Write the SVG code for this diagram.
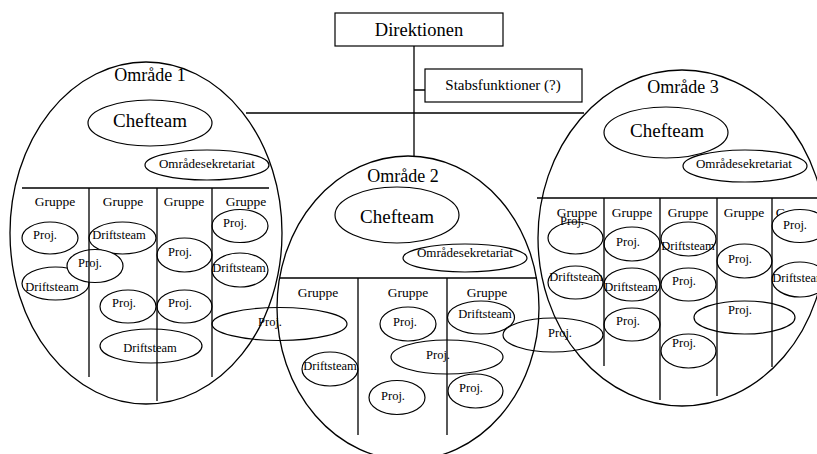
<svg xmlns="http://www.w3.org/2000/svg" width="817" height="454" viewBox="0 0 817 454">
<style>
text{font-family:"Liberation Serif","Times New Roman",serif;fill:#000;text-anchor:middle}
.big{fill:none;stroke:#000;stroke-width:1.3}
.n{fill:#fff;stroke:#000;stroke-width:1.2}
.ln{stroke:#000;stroke-width:1.3;fill:none}
.t-area{font-size:18px}
.t-chef{font-size:19px}
.t-sek{font-size:13px}
.t-grp{font-size:13.5px}
.t-s{font-size:12.5px}
</style>
<rect width="817" height="454" fill="#fff"/>

<g id="direktionen">
<rect x="335" y="13" width="168" height="33" class="n"/>
<text x="419" y="36" style="font-size:18.5px">Direktionen</text>
</g>
<g id="stabsfunktioner">
<rect x="425" y="69" width="157" height="33" class="n"/>
<text x="503" y="90" style="font-size:15px">Stabsfunktioner (?)</text>
</g>

<g id="omraade1">
<text x="150" y="81" class="t-area">Område 1</text>
<g id="o1-chefteam"><ellipse cx="150" cy="123" rx="62" ry="23" class="n"/><text x="150" y="127" class="t-chef">Chefteam</text></g>
<g id="o1-sekretariat"><ellipse cx="207" cy="165" rx="62" ry="15" class="n"/><text x="207" y="168" class="t-sek">Områdesekretariat</text></g>
<text x="55" y="206" class="t-grp">Gruppe</text>
<text x="123" y="206" class="t-grp">Gruppe</text>
<text x="184" y="206" class="t-grp">Gruppe</text>
<text x="246" y="206" class="t-grp">Gruppe</text>
<g id="o1-p1"><ellipse cx="50" cy="238" rx="28" ry="16" class="n"/><text x="45" y="239" class="t-s">Proj.</text></g>
<g id="o1-d1"><ellipse cx="122.5" cy="238" rx="33.5" ry="16" class="n"/><text x="119" y="239" class="t-s">Driftsteam</text></g>
<g id="o1-d2"><ellipse cx="55.5" cy="283.5" rx="33.5" ry="16.5" class="n"/><text x="52" y="291" class="t-s">Driftsteam</text></g>
<g id="o1-p2"><ellipse cx="95" cy="266" rx="28" ry="16.5" class="n"/><text x="90" y="267" class="t-s">Proj.</text></g>
<g id="o1-p3"><ellipse cx="184.5" cy="255" rx="27.5" ry="17" class="n"/><text x="180" y="256" class="t-s">Proj.</text></g>
<g id="o1-p4"><ellipse cx="240" cy="226" rx="28" ry="16.5" class="n"/><text x="235" y="227" class="t-s">Proj.</text></g>
<g id="o1-d3"><ellipse cx="240" cy="270" rx="28" ry="17" class="n"/><text x="239" y="272" class="t-s">Driftsteam</text></g>
<g id="o1-p5"><ellipse cx="128" cy="306.5" rx="28" ry="16.5" class="n"/><text x="124" y="307" class="t-s">Proj.</text></g>
<g id="o1-p6"><ellipse cx="184.5" cy="306.5" rx="27.5" ry="16.5" class="n"/><text x="180" y="307" class="t-s">Proj.</text></g>
<g id="o1-d4"><ellipse cx="151" cy="346" rx="51" ry="17" class="n"/><text x="150" y="352" class="t-s">Driftsteam</text></g>
<g id="o1-p7"><ellipse cx="279.5" cy="324" rx="67.5" ry="16.5" class="n"/><text x="270" y="326" class="t-s">Proj.</text></g>
<ellipse cx="146" cy="233" rx="136" ry="171" class="big"/>
<path d="M22 188H269M89 188V377M157 188V401M212 188V377" class="ln"/>
</g>

<g id="omraade2">
<text x="403" y="182" class="t-area">Område 2</text>
<g id="o2-chefteam"><ellipse cx="397" cy="215" rx="62" ry="28" class="n"/><text x="397" y="223" class="t-chef">Chefteam</text></g>
<g id="o2-sekretariat"><ellipse cx="465" cy="258" rx="62" ry="14" class="n"/><text x="465" y="257" class="t-sek">Områdesekretariat</text></g>
<text x="318" y="297" class="t-grp">Gruppe</text>
<text x="408" y="297" class="t-grp">Gruppe</text>
<text x="487" y="297" class="t-grp">Gruppe</text>
<g id="o2-d1"><ellipse cx="330" cy="369" rx="28" ry="17" class="n"/><text x="330" y="370" class="t-s">Driftsteam</text></g>
<g id="o2-p1"><ellipse cx="408" cy="324" rx="28" ry="17" class="n"/><text x="405" y="326" class="t-s">Proj.</text></g>
<g id="o2-d2"><ellipse cx="481" cy="317.5" rx="33.5" ry="16.5" class="n"/><text x="485" y="318" class="t-s">Driftsteam</text></g>
<g id="o2-p2"><ellipse cx="447" cy="357" rx="56" ry="17" class="n"/><text x="438" y="359" class="t-s">Proj.</text></g>
<g id="o2-p3"><ellipse cx="397" cy="397.5" rx="28" ry="17" class="n"/><text x="393" y="400" class="t-s">Proj.</text></g>
<g id="o2-p4"><ellipse cx="475.5" cy="391" rx="27.5" ry="17" class="n"/><text x="471" y="392" class="t-s">Proj.</text></g>
<g id="o2-p5"><ellipse cx="553" cy="335" rx="50" ry="17" class="n"/><text x="560" y="337" class="t-s">Proj.</text></g>
<ellipse cx="408" cy="308" rx="131" ry="152" class="big"/>
<path d="M280 278H537M358 278V435M447 278V435" class="ln"/>
</g>

<g id="omraade3">
<text x="683" y="93" class="t-area">Område 3</text>
<g id="o3-chefteam"><ellipse cx="666" cy="132.5" rx="62" ry="25.5" class="n"/><text x="667" y="137" class="t-chef">Chefteam</text></g>
<g id="o3-sekretariat"><ellipse cx="745" cy="166" rx="62" ry="16" class="n"/><text x="744" y="168" class="t-sek">Områdesekretariat</text></g>
<text x="577" y="217" class="t-grp">Gruppe</text>
<text x="632" y="217" class="t-grp">Gruppe</text>
<text x="688" y="217" class="t-grp">Gruppe</text>
<text x="744" y="217" class="t-grp">Gruppe</text>
<text x="796" y="217" class="t-grp">Gruppe</text>
<g id="o3-p1"><ellipse cx="575.5" cy="238" rx="27.5" ry="16" class="n"/><text x="572" y="225" class="t-s">Proj.</text></g>
<g id="o3-p2"><ellipse cx="632" cy="244" rx="28" ry="17" class="n"/><text x="628" y="246" class="t-s">Proj.</text></g>
<g id="o3-d1"><ellipse cx="688.5" cy="239" rx="27.5" ry="17" class="n"/><text x="688" y="250" class="t-s">Driftsteam</text></g>
<g id="o3-p3"><ellipse cx="744.5" cy="261" rx="27.5" ry="17" class="n"/><text x="740" y="263" class="t-s">Proj.</text></g>
<g id="o3-p4"><ellipse cx="800" cy="226" rx="28" ry="16.5" class="n"/><text x="795" y="229" class="t-s">Proj.</text></g>
<g id="o3-d2"><ellipse cx="575.5" cy="282.5" rx="27.5" ry="16.5" class="n"/><text x="576" y="281" class="t-s">Driftsteam</text></g>
<g id="o3-d3"><ellipse cx="632" cy="284.5" rx="28" ry="16.5" class="n"/><text x="631" y="291" class="t-s">Driftsteam</text></g>
<g id="o3-p5"><ellipse cx="688.5" cy="284.5" rx="27.5" ry="16.5" class="n"/><text x="684" y="285" class="t-s">Proj.</text></g>
<g id="o3-d4"><ellipse cx="800" cy="279.5" rx="28" ry="17.5" class="n"/><text x="799" y="282" class="t-s">Driftsteam</text></g>
<g id="o3-p6"><ellipse cx="632" cy="324.5" rx="28" ry="16.5" class="n"/><text x="628" y="325" class="t-s">Proj.</text></g>
<g id="o3-p7"><ellipse cx="744.5" cy="317.5" rx="50.5" ry="16.5" class="n"/><text x="740" y="314" class="t-s">Proj.</text></g>
<g id="o3-p8"><ellipse cx="688.5" cy="351" rx="27.5" ry="17" class="n"/><text x="684" y="347" class="t-s">Proj.</text></g>
<ellipse cx="682" cy="238" rx="144" ry="168" class="big"/>
<path d="M537 198H817M604 198V366M660 198V400M717 198V396M772 198V367" class="ln"/>
</g>

<g id="connectors">
<path d="M414 46V157M414 90H425M246 113H584" class="ln"/>
</g>
</svg>
